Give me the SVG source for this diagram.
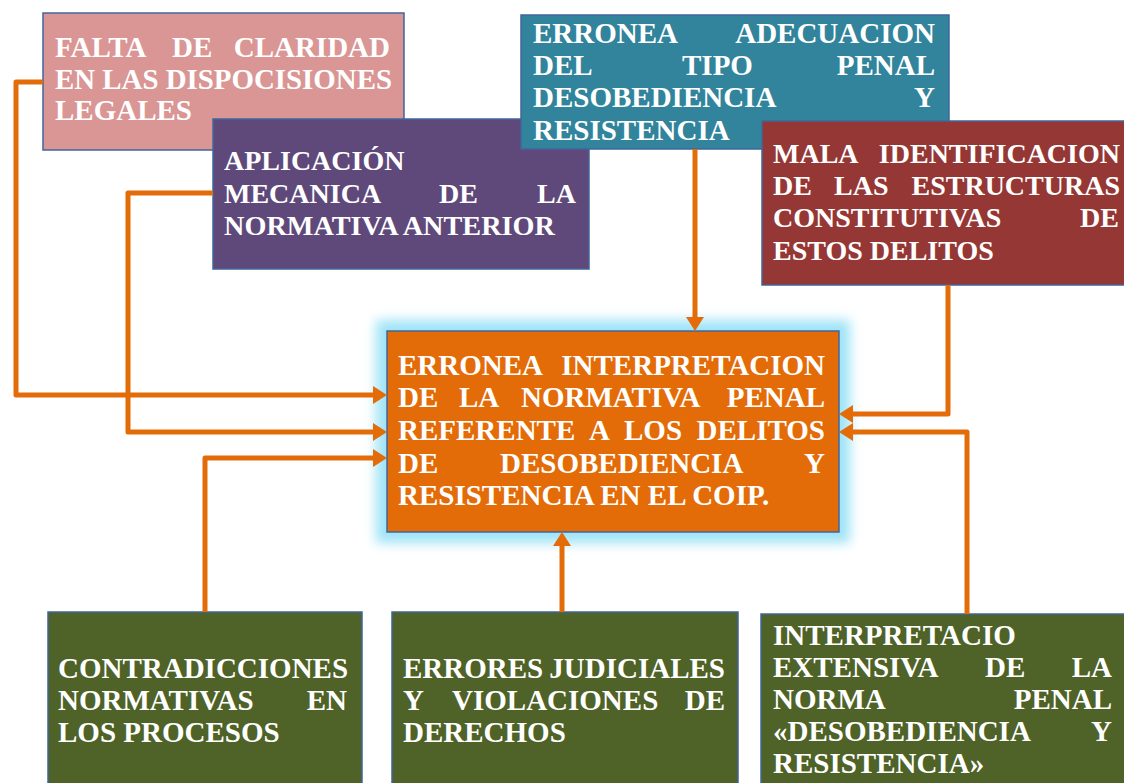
<svg xmlns="http://www.w3.org/2000/svg" width="1124" height="783" viewBox="0 0 1124 783">
<style>
.box{stroke:#41659a;stroke-width:1.5}
.t{font-family:"Liberation Serif","Times New Roman",serif;font-weight:bold;fill:#ffffff;font-size:29px}
.s28{font-size:28px}
.e{text-anchor:end}
.m{text-anchor:start}
.c{fill:none;stroke:#e36c09;stroke-width:5;stroke-linejoin:round}
</style>
<defs>
<marker id="ah" markerUnits="userSpaceOnUse" markerWidth="16" markerHeight="18" refX="2" refY="9" orient="auto">
<path d="M0,0 L14,9 L0,18 z" fill="#e36c09"/>
</marker>
<filter id="glow" x="-20%" y="-20%" width="140%" height="140%">
<feGaussianBlur stdDeviation="6"/>
</filter>
</defs>
<rect width="1124" height="783" fill="#ffffff"/>

<g id="n-falta">
<rect class="box" x="43" y="13" width="361" height="137" fill="#d99694"/>
<text class="t" y="57"><tspan x="55">FALTA</tspan><tspan x="172">DE</tspan><tspan x="390" class="e">CLARIDAD</tspan></text>
<text class="t" x="55" y="89" textLength="337" lengthAdjust="spacingAndGlyphs">EN LAS DISPOCISIONES</text>
<text class="t" x="55" y="120">LEGALES</text>
</g>

<g id="n-aplicacion">
<rect class="box" x="213" y="119" width="376" height="150" fill="#5f497a"/>
<text class="t s28" x="224" y="170">APLICACIÓN</text>
<text class="t s28" y="203"><tspan x="224">MECANICA</tspan><tspan x="439">DE</tspan><tspan x="576" class="e">LA</tspan></text>
<text class="t s28" x="224" y="235" textLength="331" lengthAdjust="spacingAndGlyphs">NORMATIVA ANTERIOR</text>
</g>

<g id="n-adecuacion">
<rect class="box" x="521" y="15" width="428" height="134" fill="#31849b"/>
<text class="t" y="43"><tspan x="533">ERRONEA</tspan><tspan x="935" class="e">ADECUACION</tspan></text>
<text class="t" y="75"><tspan x="533">DEL</tspan><tspan x="682">TIPO</tspan><tspan x="935" class="e">PENAL</tspan></text>
<text class="t" y="107"><tspan x="533">DESOBEDIENCIA</tspan><tspan x="935" class="e">Y</tspan></text>
<text class="t" x="533" y="140">RESISTENCIA</text>
</g>

<g id="n-mala">
<rect class="box" x="762" y="121" width="370" height="164" fill="#953735"/>
<text class="t s28" y="163"><tspan x="773">MALA</tspan><tspan x="1120" class="e">IDENTIFICACION</tspan></text>
<text class="t s28" y="195"><tspan x="773">DE</tspan><tspan x="834">LAS</tspan><tspan x="1120" class="e">ESTRUCTURAS</tspan></text>
<text class="t s28" y="227"><tspan x="773">CONSTITUTIVAS</tspan><tspan x="1119" class="e">DE</tspan></text>
<text class="t s28" x="773" y="260">ESTOS DELITOS</text>
</g>

<g id="n-central">
<rect x="376" y="320" width="474" height="223" fill="#9fe3f7" filter="url(#glow)"/>
<rect class="box" x="387" y="331" width="452" height="201" fill="#e36c09"/>
<text class="t" y="375"><tspan x="398">ERRONEA</tspan><tspan x="825" class="e">INTERPRETACION</tspan></text>
<text class="t" y="407"><tspan x="398">DE</tspan><tspan x="459">LA</tspan><tspan x="521">NORMATIVA</tspan><tspan x="825" class="e">PENAL</tspan></text>
<text class="t" y="440"><tspan x="398">REFERENTE</tspan><tspan x="589">A</tspan><tspan x="624">LOS</tspan><tspan x="825" class="e">DELITOS</tspan></text>
<text class="t" y="473"><tspan x="398">DE</tspan><tspan x="500">DESOBEDIENCIA</tspan><tspan x="825" class="e">Y</tspan></text>
<text class="t" x="398" y="505">RESISTENCIA EN EL COIP.</text>
</g>

<g id="n-contradicciones">
<rect class="box" x="48" y="612" width="314" height="180" fill="#4f6228"/>
<text class="t" x="58" y="678">CONTRADICCIONES</text>
<text class="t" y="710"><tspan x="58">NORMATIVAS</tspan><tspan x="347" class="e">EN</tspan></text>
<text class="t" x="58" y="742">LOS PROCESOS</text>
</g>

<g id="n-errores">
<rect class="box" x="392" y="612" width="346" height="180" fill="#4f6228"/>
<text class="t" y="678"><tspan x="403">ERRORES</tspan><tspan x="725" class="e">JUDICIALES</tspan></text>
<text class="t" y="710"><tspan x="403">Y</tspan><tspan x="452">VIOLACIONES</tspan><tspan x="725" class="e">DE</tspan></text>
<text class="t" x="403" y="742">DERECHOS</text>
</g>

<g id="n-interpretacio">
<rect class="box" x="761" y="614" width="370" height="180" fill="#4f6228"/>
<text class="t" x="773" y="645">INTERPRETACIO</text>
<text class="t" y="677"><tspan x="773">EXTENSIVA</tspan><tspan x="985">DE</tspan><tspan x="1112" class="e">LA</tspan></text>
<text class="t" y="709"><tspan x="773">NORMA</tspan><tspan x="1112" class="e">PENAL</tspan></text>
<text class="t" y="741"><tspan x="773">«DESOBEDIENCIA</tspan><tspan x="1112" class="e">Y</tspan></text>
<text class="t" x="773" y="773">RESISTENCIA»</text>
</g>

<g id="connectors">
<path class="c" d="M43,82 H16 V395 H375" marker-end="url(#ah)"/>
<path class="c" d="M213,193 H128 V432 H375" marker-end="url(#ah)"/>
<path class="c" d="M205,612 V458 H375" marker-end="url(#ah)"/>
<path class="c" d="M948,285 V414 H851" marker-end="url(#ah)"/>
<path class="c" d="M967,614 V432 H851" marker-end="url(#ah)"/>
<path class="c" d="M562,612 V544" marker-end="url(#ah)"/>
<path class="c" d="M695,149 V319" marker-end="url(#ah)"/>
</g>
</svg>
